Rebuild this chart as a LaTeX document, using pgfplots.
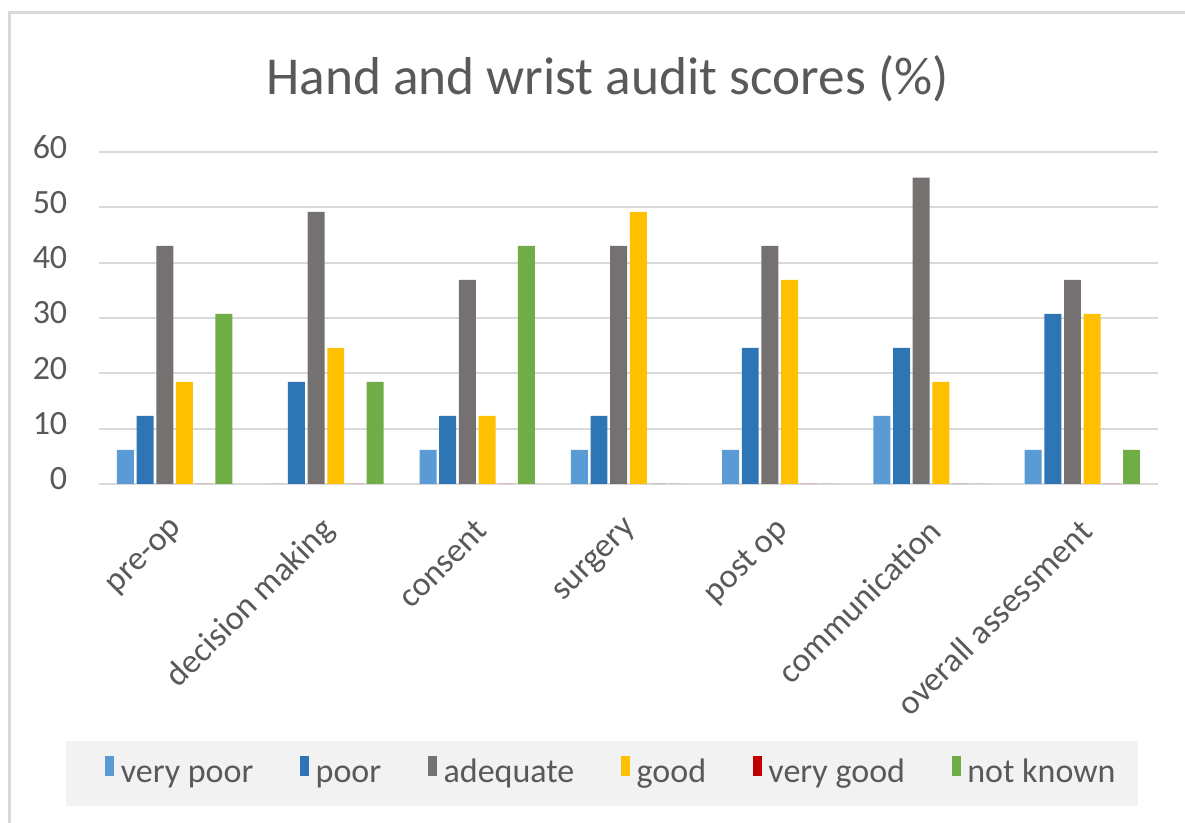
\documentclass[border=0pt]{standalone}
\usepackage{fontspec}
\setmainfont{Carlito}
\usepackage{pgfplots}
\pgfplotsset{compat=1.18}
\definecolor{vpoor}{HTML}{5B9BD5}
\definecolor{poor}{HTML}{2E75B6}
\definecolor{adeq}{HTML}{767171}
\definecolor{good}{HTML}{FFC000}
\definecolor{vgood}{HTML}{C00000}
\definecolor{nknown}{HTML}{70AD47}
\definecolor{txt}{HTML}{595959}
\definecolor{gridc}{HTML}{D9D9D9}
\definecolor{legbg}{HTML}{F2F2F2}
\begin{document}
\begin{tikzpicture}[x=0.3pt,y=0.3pt]
\path[use as bounding box, fill=white] (0,0) rectangle (1185,823);
\draw[gridc, line width=0.9pt] (9.5,0) -- (9.5,810.5) -- (1185,810.5);
\fill[legbg] (66,17) rectangle (1138,82);
\node[anchor=base, text=txt, font=\fontsize{16}{19}\selectfont, inner sep=0pt] at (607.5,728) {Hand and wrist audit scores (\%)};
\begin{axis}[
  at={(29.7pt,101.7pt)}, anchor=south west,
  scale only axis, width=317.7pt, height=99.6pt,
  xmin=-0.5, xmax=6.5, ymin=0, ymax=60,
  ybar, bar width=0.112,
  xtick={0.08,1.08,2.08,3.08,4.08,5.08,6.08},
  xticklabels={pre-op, decision making, consent, surgery, post op, communication, overall assessment},
  ytick={0,10,...,60},
  /pgf/number format/assume math mode=true,
  axis line style={draw=none},
  major tick length=0pt,
  ymajorgrids, grid style={gridc, line width=0.6pt},
  tick label style={text=txt, font=\fontsize{10.2}{12}\selectfont},
  yticklabel style={anchor=east, xshift=-6pt, yshift=1.5pt},
  xticklabel style={rotate=45, anchor=east},
  xticklabel shift=9.9pt,
  legend columns=6,
  legend style={at={(0.486,-0.8645)}, anchor=center, draw=none, fill=none,
    font=\fontsize{10.2}{12}\selectfont, text=txt,
    /tikz/every even column/.append style={column sep=12pt}},
  legend image code/.code={\path[draw=none,fill=none,use as bounding box] (0pt,-4.5pt) rectangle (2.7pt,4.5pt);\fill[#1] (0pt,-1.5pt) rectangle (2.7pt,4.5pt);},
]
\addplot[fill=vpoor, draw=none, bar shift=-0.325] coordinates {(0,6.15) (1,0) (2,6.15) (3,6.15) (4,6.15) (5,12.3) (6,6.15)};
\addplot[fill=poor, draw=none, bar shift=-0.195] coordinates {(0,12.3) (1,18.45) (2,12.3) (3,12.3) (4,24.6) (5,24.6) (6,30.75)};
\addplot[fill=adeq, draw=none, bar shift=-0.065] coordinates {(0,43.05) (1,49.2) (2,36.9) (3,43.05) (4,43.05) (5,55.35) (6,36.9)};
\addplot[fill=good, draw=none, bar shift=0.065] coordinates {(0,18.45) (1,24.6) (2,12.3) (3,49.2) (4,36.9) (5,18.45) (6,30.75)};
\addplot[fill=vgood, draw=none, bar shift=0.195] coordinates {(0,0) (1,0) (2,0) (3,0) (4,0) (5,0) (6,0)};
\addplot[fill=nknown, draw=none, bar shift=0.325] coordinates {(0,30.75) (1,18.45) (2,43.05) (3,0) (4,0) (5,0) (6,6.15)};
\legend{\strut very poor, \strut poor, \strut adequate, \strut good, \strut very good, \strut not known}
\end{axis}
\end{tikzpicture}
\end{document}
